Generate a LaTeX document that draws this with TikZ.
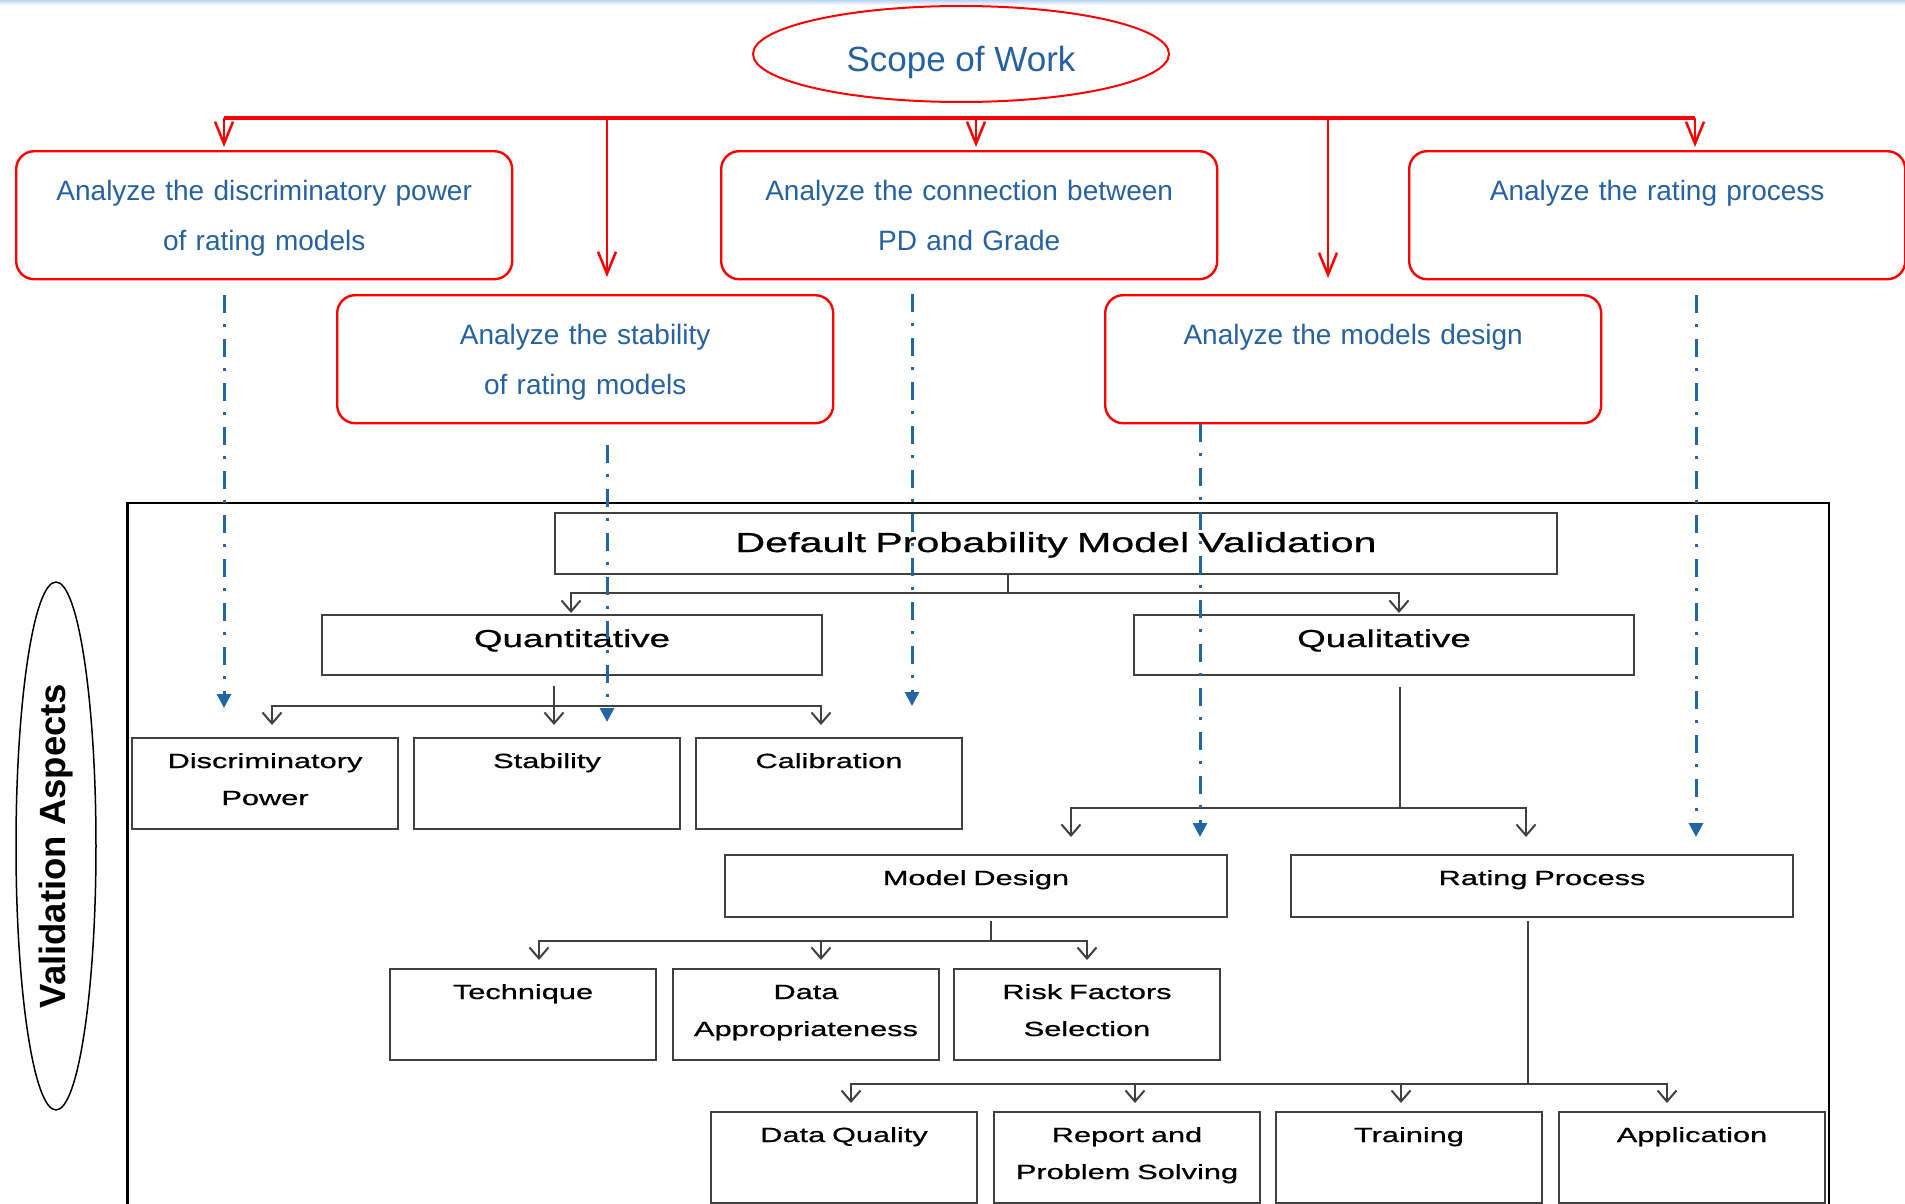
\documentclass[tikz,border=0pt]{standalone}
\usepackage{fontspec}
\setmainfont{Liberation Sans}
\newfontfamily\boxfont[FakeStretch=1.5,FakeBold=0.8]{Liberation Sans}
\newfontfamily\bluefont[WordSpace=1.3]{Liberation Sans}
\usetikzlibrary{arrows.meta,shapes.geometric}

\definecolor{scopered}{RGB}{255,0,0}
\definecolor{scopeblue}{RGB}{38,98,160}
\definecolor{linkblue}{RGB}{34,102,165}
\definecolor{framegray}{RGB}{64,64,64}
\definecolor{topblue}{RGB}{185,212,240}

\tikzset{
  scopebox/.style={draw=scopered, line width=2.4pt, rounded corners=18pt,
    inner sep=0pt, anchor=north west, align=center, text=scopeblue,
    font=\bluefont\fontsize{28}{50}\selectfont,
    text width=496pt, text height=49pt, text depth=79pt},
  aspect/.style={draw=framegray, line width=2pt, inner sep=0pt,
    anchor=north west, align=center,
    font=\boxfont\fontsize{20.5}{37}\selectfont},
  smallbox/.style={aspect, text width=266pt, text height=30pt, text depth=61pt},
  widebox/.style={aspect, text width=502pt, text height=30pt, text depth=32pt},
  midbox/.style={aspect, font=\boxfont\fontsize{24.5}{30}\selectfont,
    text width=500pt, text height=32pt, text depth=28pt},
  redline/.style={draw=scopered, line width=2.5pt},
  redarrow/.style={redline, -{Straight Barb[length=22pt,width=18pt]}},
  tree/.style={draw=framegray, line width=2pt},
  treearrow/.style={tree, -{Straight Barb[length=11pt,width=19pt]}},
  linkdash/.style={draw=linkblue, line width=3pt,
    dash pattern=on 18pt off 11pt on 3pt off 12pt,
    -{Triangle[length=14pt,width=14pt]}},
}

\begin{document}
\begin{tikzpicture}[x=1pt,y=-1pt]
\useasboundingbox (0,0) rectangle (1905,1204);
\clip (0,0) rectangle (1905,1204);
\fill[white] (0,0) rectangle (1905,1204);
\shade[top color=topblue, bottom color=white] (0,0) rectangle (1905,5);

% scope of work and its five tasks
\node[ellipse, draw=scopered, line width=2pt, minimum width=416pt,
  minimum height=96pt, inner sep=0pt, text=scopeblue,
  font=\fontsize{35}{40}\selectfont, text height=36pt, text depth=0pt]
  (scope) at (961,54) {Scope of Work};

\node[scopebox] (an1) at (15,150) {Analyze the discriminatory power\\of rating models};
\node[scopebox] (an2) at (336,294) {Analyze the stability\\of rating models};
\node[scopebox] (an3) at (720,150) {Analyze the connection between\\PD and Grade};
\node[scopebox] (an4) at (1104,294) {Analyze the models design};
\node[scopebox] (an5) at (1408,150) {Analyze the rating process};

\coordinate (b1) at (224,118);
\coordinate (b2) at (607,118);
\coordinate (b3) at (976,118);
\coordinate (b4) at (1328,118);
\coordinate (b5) at (1695,118);
\draw[redline, line width=3.2pt] (b1) -- (b5);
\draw[redarrow, shorten >=3pt] (b1) -- (an1.north -| b1);
\draw[redarrow, shorten >=17pt] (b2) -- (an2.north -| b2);
\draw[redarrow, shorten >=3pt] (b3) -- (an3.north -| b3);
\draw[redarrow, shorten >=16pt] (b4) -- (an4.north -| b4);
\draw[redarrow, shorten >=3pt] (b5) -- (an5.north -| b5);

% validation aspects frame
\draw[line width=2.2pt] (127.5,1220) |- (1829,503) -- (1829,1220);
\node[ellipse, draw, line width=1.5pt, rotate=90, minimum width=528pt,
  minimum height=80pt, inner sep=0pt, font=\bfseries\fontsize{36.5}{40}\selectfont]
  (va) at (56,846) {Validation Aspects};

% model validation tree
\node[aspect, font=\boxfont\fontsize{27.5}{30}\selectfont, text width=1002pt,
  text height=39pt, text depth=22pt] (dpmv) at (554,512)
  {Default Probability Model Validation};
\node[midbox] (quant) at (321,614) {Quantitative};
\node[midbox] (qual) at (1133,614) {Qualitative};

\node[smallbox] (dp) at (131,737) {Discriminatory\\Power};
\node[smallbox] (stab) at (413,737) {Stability};
\node[smallbox] (cal) at (695,737) {Calibration};

\node[widebox] (md) at (724,854) {Model Design};
\node[widebox] (rp) at (1290,854) {Rating Process};

\node[smallbox] (tech) at (389,968) {Technique};
\node[smallbox] (dap) at (672,968) {Data\\Appropriateness};
\node[smallbox] (rfs) at (953,968) {Risk Factors\\Selection};

\node[smallbox] (dq) at (710,1111) {Data Quality};
\node[smallbox] (rps) at (993,1111) {Report and\\Problem Solving};
\node[smallbox] (trn) at (1275,1111) {Training};
\node[smallbox] (app) at (1558,1111) {Application};

% tree connectors
\coordinate (j0) at (1008,593);
\coordinate (k0a) at (571,593);
\coordinate (k0b) at (1399,593);
\draw[tree] (dpmv.south -| j0) -- (j0);
\draw[treearrow, shorten >=1pt] (j0) -| (quant.north -| k0a);
\draw[treearrow, shorten >=1pt] (j0) -| (qual.north -| k0b);

\coordinate (j1) at (554,706);
\coordinate (k1a) at (272,706);
\coordinate (k1b) at (821,706);
\draw[treearrow, shorten <=10pt, shorten >=12pt] (quant.south -| j1) -- (stab.north -| j1);
\draw[treearrow, shorten >=12pt] (j1) -| (dp.north -| k1a);
\draw[treearrow, shorten >=12pt] (j1) -| (cal.north -| k1b);

\coordinate (j2) at (1400,808);
\coordinate (k2a) at (1071,808);
\coordinate (k2b) at (1526,808);
\draw[tree, shorten <=11pt] (qual.south -| j2) -- (j2);
\draw[treearrow, shorten >=17pt] (j2) -| (md.north -| k2a);
\draw[treearrow, shorten >=17pt] (j2) -| (rp.north -| k2b);

\coordinate (j3) at (991,941);
\coordinate (k3a) at (539,941);
\coordinate (k3b) at (821,941);
\coordinate (k3c) at (1087,941);
\draw[tree, shorten <=3pt] (md.south -| j3) -- (j3);
\draw[treearrow, shorten >=8pt] (j3) -| (tech.north -| k3a);
\draw[treearrow, shorten >=8pt] (k3b) -- (dap.north -| k3b);
\draw[treearrow, shorten >=8pt] (j3) -| (rfs.north -| k3c);

\coordinate (j4) at (1528,1084);
\coordinate (k4a) at (851,1084);
\coordinate (k4b) at (1135,1084);
\coordinate (k4c) at (1401,1084);
\coordinate (k4d) at (1667,1084);
\draw[tree, shorten <=3pt] (rp.south -| j4) -- (j4);
\draw[treearrow, shorten >=8pt] (j4) -| (dq.north -| k4a);
\draw[treearrow, shorten >=8pt] (k4b) -- (rps.north -| k4b);
\draw[treearrow, shorten >=8pt] (k4c) -- (trn.north -| k4c);
\draw[treearrow, shorten >=8pt] (j4) -| (app.north -| k4d);

% links from tasks to validation aspects
\coordinate (xA) at (224,0);
\coordinate (xB) at (607,0);
\coordinate (xC) at (912,0);
\coordinate (xD) at (1200,0);
\coordinate (xE) at (1696,0);
\draw[linkdash, shorten <=15pt, shorten >=29pt] (an1.south -| xA) -- (dp.north -| xA);
\draw[linkdash, shorten <=21pt, shorten >=15pt] (an2.south -| xB) -- (stab.north -| xB);
\draw[linkdash, shorten <=14pt, shorten >=31pt] (an3.south -| xC) -- (cal.north -| xC);
\draw[linkdash, shorten >=17pt] (an4.south -| xD) -- (md.north -| xD);
\draw[linkdash, shorten <=15pt, shorten >=17pt] (an5.south -| xE) -- (rp.north -| xE);
\end{tikzpicture}
\end{document}
